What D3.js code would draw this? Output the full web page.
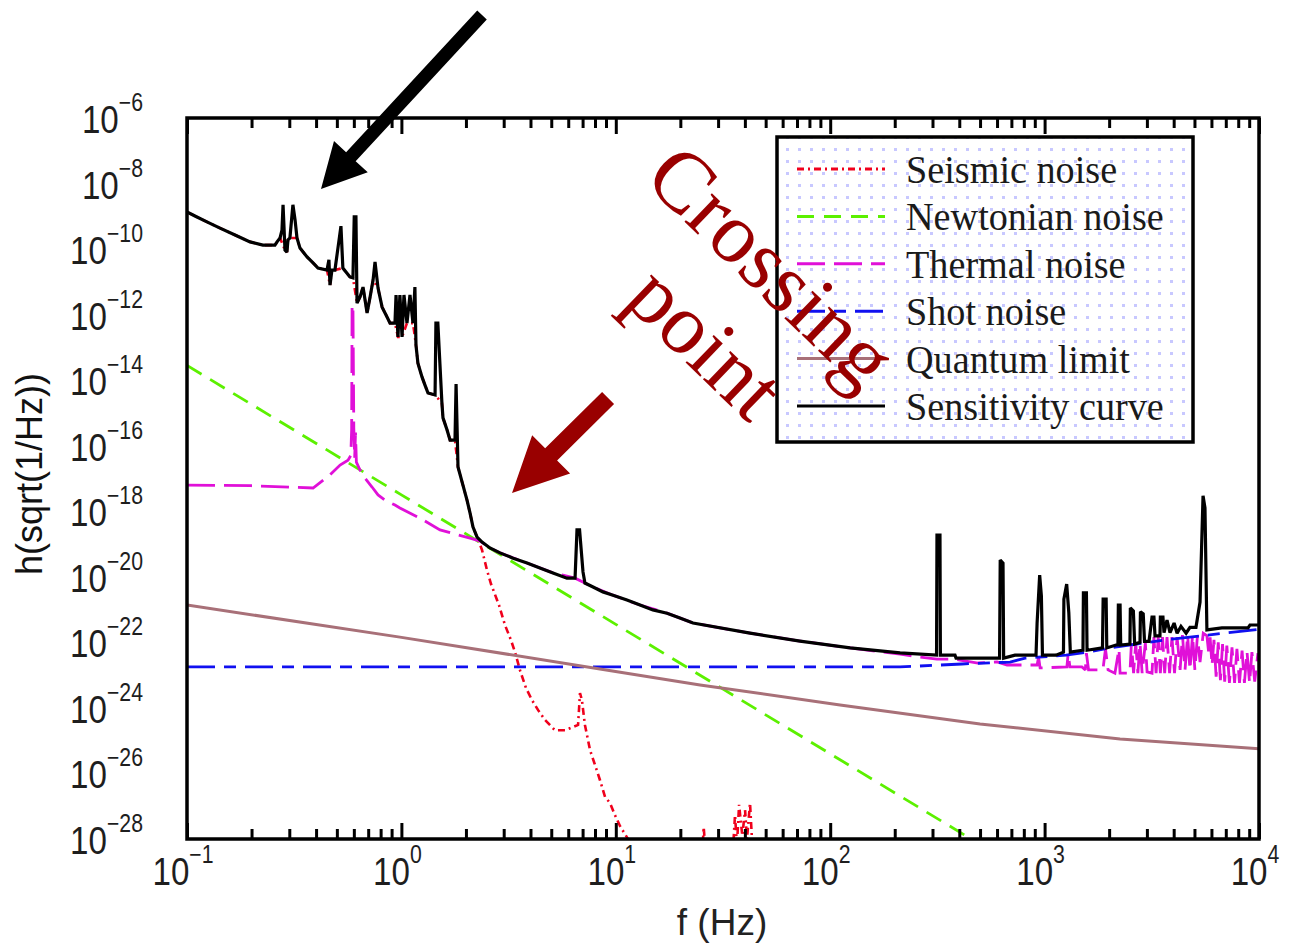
<!DOCTYPE html>
<html><head><meta charset="utf-8">
<script src="https://cdn.jsdelivr.net/npm/d3@7"></script>
<style>body{margin:0;background:#fff}svg{display:block}</style>
</head><body>
<svg id="chart" width="1294" height="943"></svg>
<script>
// ---------- DATA (log10 of frequency in Hz, log10 of h in 1/sqrt(Hz)) ----------
const xTickExps = [-1, 0, 1, 2, 3, 4];
const yTickExps = [-6, -8, -10, -12, -14, -16, -18, -20, -22, -24, -26, -28];
const seriesNames = ["Seismic noise", "Newtonian noise", "Thermal noise", "Shot noise", "Quantum limit", "Sensitivity curve"];

const seismicLogF = [-1.000,-0.963,-0.907,-0.846,-0.776,-0.706,-0.646,-0.590,-0.580,-0.566,-0.543,-0.534,-0.529,-0.520,-0.487,-0.473,-0.440,-0.412,-0.389,-0.347,-0.333,-0.324,-0.310,-0.273,-0.240,-0.226,-0.207,-0.193,-0.179,-0.160,-0.146,-0.132,-0.109,-0.090,-0.067,-0.053,-0.030,-0.016,0.003,0.026,0.054,0.068,0.077,0.096,0.110,0.124,0.157,0.189,0.194,0.213,0.227,0.250,0.264,0.287,0.306,0.320,0.334,0.353,0.376,
  0.399,0.418,0.455,0.483,0.511,0.530,0.553,0.581,0.609,0.637,0.670,0.716,0.763,0.824,0.833,0.842,0.856,0.880,0.903,0.926,0.950,0.973,0.996,1.020,1.057,
  1.100,1.400,1.410,1.420,1.545,1.556,1.565,1.575,1.590,1.603,1.612,1.626,1.640,1.700];
const seismicLogH = [-8.87,-8.99,-9.17,-9.36,-9.57,-9.78,-9.88,-9.88,-9.78,-9.66,-10.03,-10.09,-9.72,-9.66,-9.66,-9.97,-10.24,-10.42,-10.58,-10.64,-11.10,-10.64,-10.64,-10.58,-10.85,-10.88,-11.65,-11.46,-11.16,-11.95,-11.46,-10.94,-11.19,-11.77,-12.07,-12.26,-12.26,-12.68,-12.68,-12.26,-12.26,-12.93,-13.48,-13.90,-14.15,-14.39,-14.45,-14.70,-15.15,-15.52,-15.83,-15.83,-16.65,-17.20,-17.66,-18.05,-18.48,-18.79,-19.18,
  -19.79,-20.22,-20.86,-21.47,-21.93,-22.30,-22.85,-23.39,-23.76,-24.06,-24.37,-24.68,-24.68,-24.52,-23.55,-23.76,-24.52,-25.29,-25.74,-26.20,-26.72,-26.90,-27.27,-27.61,-28.00,
  -28.80,-28.80,-27.64,-28.50,-28.50,-27.27,-28.20,-26.96,-27.90,-27.12,-28.00,-26.90,-28.60,-29.50];

const newtonLogF = [-1, 0, 1, 2, 2.7];
const newtonLogH = [-13.55, -17.50, -21.45, -25.40, -28.17];

const thermalLogF = [-1.000,-0.700,-0.412,-0.333,-0.286,-0.249,-0.236,-0.232,-0.230,-0.226,-0.222,-0.218,-0.214,-0.210,-0.193,-0.170,-0.137,-0.109,-0.076,-0.030,-0.007,0.087,0.180,0.320,0.367,
  0.413,0.460,0.586,0.707,0.810,0.894,0.987,1.113,1.239,1.360,1.626,1.859,2.093,2.326,
  2.419,2.498,2.568,2.605,2.689,2.778,2.825,2.965,2.972,2.979,3.104,3.110,3.118,3.174,3.190,3.195,3.205,3.272,3.284,3.296,3.328,3.347,3.352,3.398,3.405,3.415,3.425,3.435,3.445,3.455,3.470,3.478,
  3.501,3.510,3.520,3.530,3.540,3.550,3.560,3.571,3.583,3.594,3.606,3.618,3.632,3.643,3.655,3.667,3.678,3.690,3.701,3.713,3.725,3.740,3.757,3.765,3.772,3.781,3.790,3.800,3.810,3.820,3.830,3.840,3.850,3.862,3.874,3.886,3.897,3.909,3.921,3.932,3.944,3.956,3.967,3.980,3.995];
const thermalLogH = [-17.20,-17.22,-17.29,-16.89,-16.59,-16.44,-16.30,-15.50,-11.71,-11.71,-15.46,-16.38,-15.60,-16.50,-16.74,-16.99,-17.26,-17.50,-17.66,-17.81,-17.90,-18.21,-18.57,-18.82,-18.91,
  -19.12,-19.27,-19.58,-19.88,-20.04,-20.31,-20.56,-20.86,-21.11,-21.41,-21.72,-21.96,-22.17,-22.36,
  -22.45,-22.51,-22.51,-22.54,-22.63,-22.60,-22.69,-22.69,-22.45,-22.78,-22.75,-22.33,-22.75,-22.75,-22.84,-22.33,-22.84,-22.84,-22.20,-22.84,-22.94,-22.20,-22.94,-22.94,-22.02,-22.94,-22.02,-22.94,-22.02,-22.94,-22.02,-22.90,
  -22.94,-21.84,-22.94,-21.84,-22.94,-21.84,-22.94,-21.84,-22.94,-21.84,-22.94,-21.84,-22.84,-21.78,-22.84,-21.78,-22.84,-21.78,-22.84,-21.78,-22.60,-21.72,-21.80,-22.30,-21.85,-22.70,-21.92,-23.05,-22.00,-23.15,-22.05,-23.20,-22.10,-23.24,-22.15,-23.24,-22.20,-23.24,-22.25,-23.24,-22.28,-23.24,-22.30,-23.20,-22.33];

const shotLogF = [-1, 2.326, 2.615, 2.839, 2.909, 3.100, 3.202, 3.305, 3.594, 4.0];
const shotLogH = [-22.75, -22.75, -22.66, -22.60, -22.48, -22.39, -22.30, -22.17, -21.90, -21.60];

const quantumLogF = [-1, -0.007, 0.926, 1.393, 2.046, 2.699, 3.352, 4.0];
const quantumLogH = [-20.86, -21.84, -22.81, -23.30, -23.91, -24.49, -24.95, -25.25];

const sensLogF = [-1.000,-0.963,-0.907,-0.846,-0.776,-0.706,-0.646,-0.590,-0.580,-0.566,-0.557,-0.552,-0.543,-0.534,-0.529,-0.520,-0.506,-0.496,-0.487,-0.473,-0.440,-0.412,-0.389,-0.347,-0.338,-0.333,-0.324,-0.310,-0.296,-0.282,-0.273,-0.240,-0.226,-0.220,-0.212,-0.207,-0.193,-0.179,-0.160,-0.146,-0.132,-0.123,-0.109,-0.090,-0.067,-0.053,-0.030,-0.025,-0.016,-0.007,0.003,0.012,0.026,0.040,0.054,0.063,0.068,0.077,0.096,0.110,0.124,0.157,0.161,0.170,0.189,0.194,0.213,0.227,0.250,0.255,0.264,0.287,0.306,0.320,0.334,0.353,0.376,0.413,0.460,0.521,0.586,0.646,0.707,0.772,0.810,0.819,0.831,0.847,0.856,0.894,0.940,0.987,1.052,1.113,1.173,1.239,1.299,1.360,1.626,1.859,2.093,2.326,
  2.496,2.498,2.512,2.514,2.582,2.587,2.790,2.793,2.806,2.809,2.862,2.960,2.965,2.977,2.985,2.990,3.053,3.088,3.090,3.103,3.113,3.120,3.177,3.179,3.181,3.195,3.198,3.270,3.273,3.287,3.290,3.333,3.342,3.344,3.352,3.355,3.398,3.400,3.414,3.420,3.445,3.447,3.460,3.466,3.487,3.501,3.510,3.515,3.538,3.540,3.552,3.557,3.571,3.585,3.604,3.618,3.636,3.660,3.678,3.706,3.725,3.739,3.748,3.757,3.827,3.949,3.958,4.000];
const sensLogH = [-8.87,-8.99,-9.17,-9.36,-9.57,-9.78,-9.88,-9.88,-9.78,-9.66,-9.42,-8.65,-10.03,-10.09,-9.72,-9.66,-8.65,-9.11,-9.66,-9.97,-10.24,-10.42,-10.58,-10.64,-10.33,-11.10,-10.64,-10.64,-9.97,-9.30,-10.58,-10.85,-10.88,-9.02,-9.02,-11.65,-11.46,-11.16,-11.95,-11.46,-10.94,-10.39,-11.19,-11.77,-12.07,-12.26,-12.26,-11.40,-12.68,-11.40,-12.68,-11.40,-12.26,-11.40,-12.26,-11.16,-12.93,-13.48,-13.90,-14.15,-14.39,-14.45,-12.26,-12.26,-14.70,-15.15,-15.52,-15.83,-15.83,-14.12,-16.65,-17.20,-17.66,-18.05,-18.48,-18.79,-18.94,-19.12,-19.27,-19.43,-19.58,-19.73,-19.88,-20.04,-20.04,-18.57,-18.57,-19.85,-20.19,-20.31,-20.46,-20.56,-20.71,-20.86,-21.01,-21.11,-21.26,-21.41,-21.72,-21.96,-22.17,-22.32,
  -22.39,-18.73,-18.73,-22.39,-22.39,-22.48,-22.48,-19.49,-19.58,-22.48,-22.39,-22.39,-21.41,-19.95,-20.59,-22.39,-22.39,-22.30,-20.68,-20.22,-21.10,-22.30,-22.24,-22.24,-20.49,-20.49,-22.24,-22.17,-20.68,-20.68,-22.17,-22.08,-22.08,-20.86,-20.86,-22.08,-22.05,-20.95,-21.04,-22.05,-22.00,-21.07,-21.13,-21.97,-21.97,-21.23,-21.23,-21.80,-21.80,-21.23,-21.23,-21.70,-21.32,-21.70,-21.41,-21.72,-21.51,-21.72,-21.54,-21.54,-20.77,-17.53,-17.90,-21.62,-21.56,-21.56,-21.47,-21.47];

// ---------- CHART ----------
const plot = {left: 187, right: 1259, top: 118, bottom: 839};
const svg = d3.select("#chart");
const x = d3.scaleLog().domain([0.1, 1e4]).range([plot.left, plot.right]);
const y = d3.scaleLog().domain([1e-28, 1e-6]).range([plot.bottom, plot.top]);
const P = (lf, lh) => [x(Math.pow(10, lf)), y(Math.pow(10, lh))];

const defs = svg.append("defs");
defs.append("clipPath").attr("id", "clip").append("rect")
  .attr("x", plot.left).attr("y", plot.top).attr("width", plot.right - plot.left).attr("height", plot.bottom - plot.top);
const pat = defs.append("pattern").attr("id", "dots").attr("patternUnits", "userSpaceOnUse")
  .attr("x", 781).attr("y", 143).attr("width", 12).attr("height", 12);
pat.append("rect").attr("x", 5).attr("y", 5).attr("width", 3).attr("height", 3).attr("fill", "#c8c8ff");

const styles = [
  {color: "#f0001c", dash: "7,4,2,4", width: 2.6},
  {color: "#5cf000", dash: "17,10", width: 2.8},
  {color: "#e010d8", dash: "28,9", width: 2.8},
  {color: "#1010f0", dash: "28,9,12,9", width: 2.8},
  {color: "#a87078", dash: null, width: 3},
  {color: "#000000", dash: null, width: 3.2}
];
const seriesData = [
  [seismicLogF, seismicLogH], [newtonLogF, newtonLogH], [thermalLogF, thermalLogH],
  [shotLogF, shotLogH], [quantumLogF, quantumLogH], [sensLogF, sensLogH]
];
const line = d3.line().x(d => x(d[0])).y(d => y(d[1]));
const curves = svg.append("g").attr("clip-path", "url(#clip)");
seriesData.forEach(([lf, lh], i) => {
  const pts = lf.map((v, k) => [Math.pow(10, v), Math.pow(10, lh[k])]);
  const s = styles[i];
  curves.append("path").datum(pts).attr("d", line)
    .attr("fill", "none").attr("stroke", s.color).attr("stroke-width", s.width)
    .attr("stroke-dasharray", s.dash).attr("stroke-linejoin", "miter").attr("stroke-miterlimit", 2);
});

// ticks
const majors = xTickExps.map(e => Math.pow(10, e));
const minors = [];
for (let e = -1; e < 4; e++) for (let m = 2; m <= 9; m++) minors.push(m * Math.pow(10, e));
function tickAxis(gen, ty, vals, size) {
  const g = svg.append("g").attr("transform", `translate(0,${ty})`)
    .call(gen(x).tickValues(vals).tickSize(size).tickFormat(""));
  g.select(".domain").remove();
  g.selectAll("line").attr("stroke", "#000").attr("stroke-width", 3);
}
tickAxis(d3.axisBottom, plot.top, majors, 16);
tickAxis(d3.axisBottom, plot.top, minors, 10);
tickAxis(d3.axisTop, plot.bottom, majors, 16);
tickAxis(d3.axisTop, plot.bottom, minors, 10);

// frame
svg.append("rect").attr("x", plot.left).attr("y", plot.top)
  .attr("width", plot.right - plot.left).attr("height", plot.bottom - plot.top)
  .attr("fill", "none").attr("stroke", "#000").attr("stroke-width", 3.5);

// tick labels
const labFont = "'Liberation Sans', Arial, sans-serif";
function powLabel(px, py, exp, anchor) {
  const g = svg.append("g").attr("transform", `translate(${px},${py}) scale(0.85,1)`);
  const t = g.append("text").attr("text-anchor", anchor).attr("font-family", labFont)
    .attr("fill", "#1e1e1e");
  t.append("tspan").attr("font-size", 39).text("10");
  t.append("tspan").attr("font-size", 25).attr("dy", -22).text((exp < 0 ? "\u2212" : "") + Math.abs(exp));
}
xTickExps.forEach(e => powLabel(x(Math.pow(10, e)) - 4, 885, e, "middle"));
yTickExps.forEach(e => powLabel(143, y(Math.pow(10, e)) + 15, e, "end"));

// axis titles
svg.append("text").attr("transform", "translate(42,474) rotate(-90)").attr("text-anchor", "middle")
  .attr("font-family", labFont).attr("font-size", 36).attr("fill", "#111").text("h(sqrt(1/Hz))");
svg.append("text").attr("x", 722).attr("y", 935).attr("text-anchor", "middle")
  .attr("font-family", labFont).attr("font-size", 37).attr("fill", "#222").text("f (Hz)");

// legend
const leg = {x: 777, y: 137, w: 416, h: 305};
svg.append("rect").attr("x", leg.x).attr("y", leg.y).attr("width", leg.w).attr("height", leg.h).attr("fill", "#fff");
svg.append("rect").attr("x", leg.x).attr("y", leg.y).attr("width", leg.w).attr("height", leg.h)
  .attr("fill", "url(#dots)").attr("stroke", "#000").attr("stroke-width", 3.5);
const rowY = d3.scalePoint().domain(seriesNames).range([169, 406]);
seriesNames.forEach((n, i) => {
  const s = styles[i], yy = rowY(n);
  svg.append("line").attr("x1", 797).attr("x2", 885).attr("y1", yy).attr("y2", yy)
    .attr("stroke", s.color).attr("stroke-width", 3).attr("stroke-dasharray", s.dash);
  svg.append("g").attr("transform", `translate(906,${yy + 14}) scale(0.955,1)`)
    .append("text").attr("font-family", "'Liberation Serif', 'Times New Roman', serif")
    .attr("font-size", 40).attr("fill", "#1a1a1a").text(n);
});

// annotations: arrows (positions given in data coordinates)
function arrow(tail, tip, shaftW, headLen, headHalf, color) {
  const [sx, sy] = P(tail[0], tail[1]), [tx, ty] = P(tip[0], tip[1]);
  const L = Math.hypot(tx - sx, ty - sy), ux = (tx - sx) / L, uy = (ty - sy) / L;
  const nx = -uy, ny = ux, bx = tx - ux * headLen, by = ty - uy * headLen;
  const pts = [[sx + nx * shaftW / 2, sy + ny * shaftW / 2], [bx + nx * shaftW / 2, by + ny * shaftW / 2],
    [bx + nx * headHalf, by + ny * headHalf], [tx, ty], [bx - nx * headHalf, by - ny * headHalf],
    [bx - nx * shaftW / 2, by - ny * shaftW / 2], [sx - nx * shaftW / 2, sy - ny * shaftW / 2]];
  svg.append("polygon").attr("points", pts.map(p => p.join(",")).join(" ")).attr("fill", color);
}
arrow([0.376, -2.857], [-0.375, -8.167], 13, 44, 23, "#000");
arrow([0.964, -14.544], [0.516, -17.443], 17, 55, 27, "#990000");

// "Crossing point" text
const serif = "'Liberation Serif', 'Times New Roman', serif";
[["Crossing", 752, 287], ["point", 686, 363]].forEach(([txt, px, py]) => {
  svg.append("text").attr("transform", `translate(${px},${py}) rotate(44)`).attr("text-anchor", "middle")
    .attr("font-family", serif).attr("font-size", 86).attr("fill", "#990000").text(txt);
});
</script>
</body></html>
